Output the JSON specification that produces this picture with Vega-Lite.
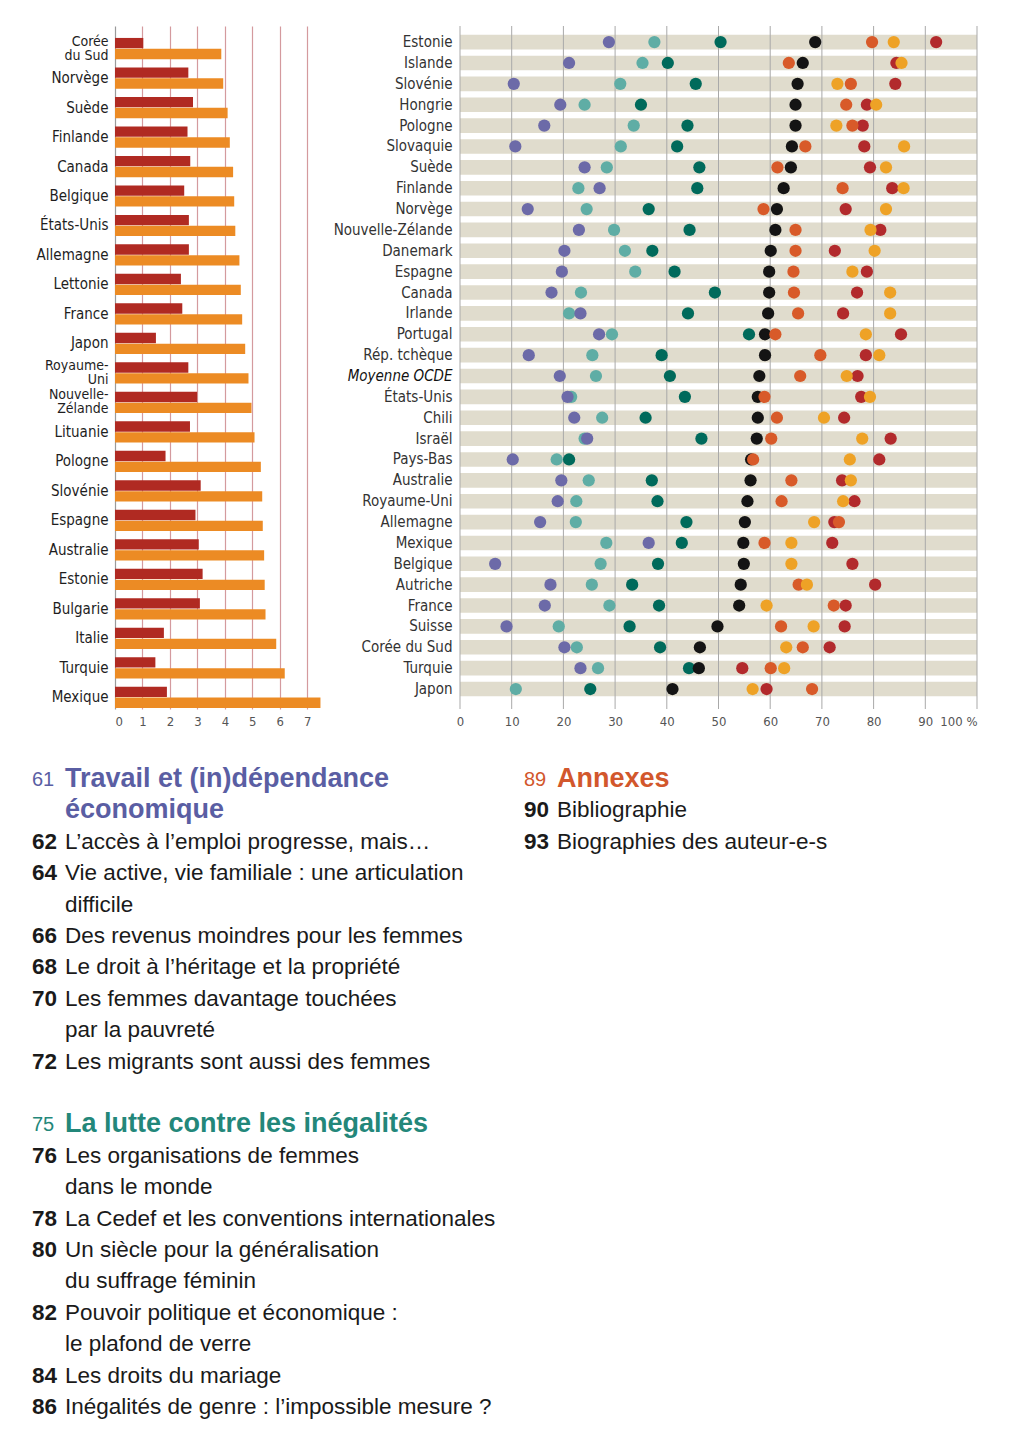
{
  "$schema": "https://vega.github.io/schema/vega-lite/v6.json",
  "padding": {"left": 0, "top": 25, "right": 0, "bottom": 0},
  "autosize": {"type": "pad"},
  "background": "white",
  "config": {"view": {"stroke": null}, "font": "DejaVu Sans Condensed, Liberation Sans, sans-serif"},
  "datasets": {
    "barres": [
      {"pays": "Corée du Sud", "a": 1.03, "b": 3.87},
      {"pays": "Norvège", "a": 2.67, "b": 3.94},
      {"pays": "Suède", "a": 2.84, "b": 4.10},
      {"pays": "Finlande", "a": 2.64, "b": 4.18},
      {"pays": "Canada", "a": 2.74, "b": 4.30},
      {"pays": "Belgique", "a": 2.52, "b": 4.34},
      {"pays": "États-Unis", "a": 2.69, "b": 4.38},
      {"pays": "Allemagne", "a": 2.69, "b": 4.53},
      {"pays": "Lettonie", "a": 2.40, "b": 4.58},
      {"pays": "France", "a": 2.45, "b": 4.63},
      {"pays": "Japon", "a": 1.49, "b": 4.74},
      {"pays": "Royaume-Uni", "a": 2.67, "b": 4.86},
      {"pays": "Nouvelle-Zélande", "a": 2.99, "b": 4.97},
      {"pays": "Lituanie", "a": 2.73, "b": 5.08},
      {"pays": "Pologne", "a": 1.84, "b": 5.31},
      {"pays": "Slovénie", "a": 3.12, "b": 5.36},
      {"pays": "Espagne", "a": 2.93, "b": 5.38},
      {"pays": "Australie", "a": 3.05, "b": 5.43},
      {"pays": "Estonie", "a": 3.19, "b": 5.45},
      {"pays": "Bulgarie", "a": 3.09, "b": 5.48},
      {"pays": "Italie", "a": 1.78, "b": 5.87},
      {"pays": "Turquie", "a": 1.47, "b": 6.18},
      {"pays": "Mexique", "a": 1.89, "b": 7.48}
    ],
    "points": [
      {"pays": "Estonie", "tc": 37.6, "vi": 28.8, "tf": 50.4, "no": 68.7, "rf": 92.1, "or": 79.7, "ja": 83.9},
      {"pays": "Islande", "tc": 35.3, "vi": 21.1, "tf": 40.2, "no": 66.3, "rf": 84.4, "or": 63.6, "ja": 85.4},
      {"pays": "Slovénie", "tc": 31.0, "vi": 10.4, "tf": 45.6, "no": 65.3, "rf": 84.2, "or": 75.6, "ja": 73.0},
      {"pays": "Hongrie", "tc": 24.1, "vi": 19.4, "tf": 35.0, "no": 64.9, "rf": 78.7, "or": 74.7, "ja": 80.5},
      {"pays": "Pologne", "tc": 33.6, "vi": 16.3, "tf": 44.0, "no": 64.9, "rf": 77.9, "or": 75.9, "ja": 72.8},
      {"pays": "Slovaquie", "tc": 31.1, "vi": 10.7, "tf": 42.0, "no": 64.2, "rf": 78.2, "or": 66.8, "ja": 85.9},
      {"pays": "Suède", "tc": 28.4, "vi": 24.1, "tf": 46.3, "no": 64.0, "rf": 79.3, "or": 61.4, "ja": 82.4},
      {"pays": "Finlande", "tc": 22.9, "vi": 27.0, "tf": 45.9, "no": 62.6, "rf": 83.6, "or": 74.0, "ja": 85.8},
      {"pays": "Norvège", "tc": 24.5, "vi": 13.1, "tf": 36.5, "no": 61.3, "rf": 74.6, "or": 58.7, "ja": 82.4},
      {"pays": "Nouvelle-Zélande", "tc": 29.8, "vi": 23.0, "tf": 44.4, "no": 61.0, "rf": 81.3, "or": 64.9, "ja": 79.4},
      {"pays": "Danemark", "tc": 31.9, "vi": 20.2, "tf": 37.2, "no": 60.1, "rf": 72.5, "or": 64.9, "ja": 80.2},
      {"pays": "Espagne", "tc": 33.9, "vi": 19.7, "tf": 41.5, "no": 59.8, "rf": 78.7, "or": 64.5, "ja": 75.9},
      {"pays": "Canada", "tc": 23.4, "vi": 17.7, "tf": 49.3, "no": 59.8, "rf": 76.8, "or": 64.6, "ja": 83.2},
      {"pays": "Irlande", "tc": 21.1, "vi": 23.3, "tf": 44.1, "no": 59.6, "rf": 74.1, "or": 65.4, "ja": 83.2},
      {"pays": "Portugal", "tc": 29.4, "vi": 26.9, "tf": 55.9, "no": 59.0, "rf": 85.3, "or": 61.0, "ja": 78.5},
      {"pays": "Rép. tchèque", "tc": 25.6, "vi": 13.3, "tf": 39.0, "no": 59.0, "rf": 78.5, "or": 69.7, "ja": 81.1},
      {"pays": "Moyenne OCDE", "tc": 26.3, "vi": 19.3, "tf": 40.6, "no": 57.9, "rf": 76.9, "or": 65.8, "ja": 74.8},
      {"pays": "États-Unis", "tc": 21.5, "vi": 20.8, "tf": 43.5, "no": 57.6, "rf": 77.6, "or": 58.9, "ja": 79.3},
      {"pays": "Chili", "tc": 27.5, "vi": 22.1, "tf": 35.9, "no": 57.6, "rf": 74.3, "or": 61.3, "ja": 70.4},
      {"pays": "Israël", "tc": 24.1, "vi": 24.6, "tf": 46.7, "no": 57.4, "rf": 83.3, "or": 60.2, "ja": 77.8},
      {"pays": "Pays-Bas", "tc": 18.7, "vi": 10.2, "tf": 21.1, "no": 56.3, "rf": 81.1, "or": 56.7, "ja": 75.4},
      {"pays": "Australie", "tc": 24.9, "vi": 19.6, "tf": 37.1, "no": 56.2, "rf": 73.9, "or": 64.1, "ja": 75.6},
      {"pays": "Royaume-Uni", "tc": 22.5, "vi": 18.9, "tf": 38.2, "no": 55.6, "rf": 76.3, "or": 62.2, "ja": 74.1},
      {"pays": "Allemagne", "tc": 22.4, "vi": 15.5, "tf": 43.8, "no": 55.1, "rf": 72.4, "or": 73.3, "ja": 68.5},
      {"pays": "Mexique", "tc": 28.3, "vi": 36.5, "tf": 42.9, "no": 54.8, "rf": 72.0, "or": 58.9, "ja": 64.1},
      {"pays": "Belgique", "tc": 27.2, "vi": 6.8, "tf": 38.3, "no": 54.9, "rf": 75.9, "or": null, "ja": 64.1},
      {"pays": "Autriche", "tc": 25.5, "vi": 17.5, "tf": 33.3, "no": 54.3, "rf": 80.3, "or": 65.5, "ja": 67.1},
      {"pays": "France", "tc": 28.9, "vi": 16.4, "tf": 38.5, "no": 54.0, "rf": 74.6, "or": 72.3, "ja": 59.3},
      {"pays": "Suisse", "tc": 19.1, "vi": 9.0, "tf": 32.8, "no": 49.8, "rf": 74.4, "or": 62.1, "ja": 68.4},
      {"pays": "Corée du Sud", "tc": 22.6, "vi": 20.2, "tf": 38.7, "no": 46.4, "rf": 71.5, "or": 66.3, "ja": 63.1},
      {"pays": "Turquie", "tc": 26.7, "vi": 23.3, "tf": 44.3, "no": 46.2, "rf": 54.6, "or": 60.1, "ja": 62.7},
      {"pays": "Japon", "tc": 10.8, "vi": null, "tf": 25.2, "no": 41.1, "rf": 59.3, "or": 68.1, "ja": 56.6}
    ],
    "graduations": [
      {"t": 0}, {"t": 10}, {"t": 20}, {"t": 30}, {"t": 40}, {"t": 50},
      {"t": 60}, {"t": 70}, {"t": 80}, {"t": 90}, {"t": 100}
    ],
    "sommaire": [
      {"col": "g", "ligne": 0, "num": "61", "texte": "Travail et (in)dépendance", "type": "travail", "niveau": "section"},
      {"col": "g", "ligne": 1, "num": "", "texte": "économique", "type": "travail", "niveau": "section"},
      {"col": "g", "ligne": 2, "num": "62", "texte": "L’accès à l’emploi progresse, mais…", "type": "article", "niveau": "article"},
      {"col": "g", "ligne": 3, "num": "64", "texte": "Vie active, vie familiale : une articulation", "type": "article", "niveau": "article"},
      {"col": "g", "ligne": 4, "num": "", "texte": "difficile", "type": "article", "niveau": "article"},
      {"col": "g", "ligne": 5, "num": "66", "texte": "Des revenus moindres pour les femmes", "type": "article", "niveau": "article"},
      {"col": "g", "ligne": 6, "num": "68", "texte": "Le droit à l’héritage et la propriété", "type": "article", "niveau": "article"},
      {"col": "g", "ligne": 7, "num": "70", "texte": "Les femmes davantage touchées", "type": "article", "niveau": "article"},
      {"col": "g", "ligne": 8, "num": "", "texte": "par la pauvreté", "type": "article", "niveau": "article"},
      {"col": "g", "ligne": 9, "num": "72", "texte": "Les migrants sont aussi des femmes", "type": "article", "niveau": "article"},
      {"col": "g", "ligne": 11, "num": "75", "texte": "La lutte contre les inégalités", "type": "lutte", "niveau": "section"},
      {"col": "g", "ligne": 12, "num": "76", "texte": "Les organisations de femmes", "type": "article", "niveau": "article"},
      {"col": "g", "ligne": 13, "num": "", "texte": "dans le monde", "type": "article", "niveau": "article"},
      {"col": "g", "ligne": 14, "num": "78", "texte": "La Cedef et les conventions internationales", "type": "article", "niveau": "article"},
      {"col": "g", "ligne": 15, "num": "80", "texte": "Un siècle pour la généralisation", "type": "article", "niveau": "article"},
      {"col": "g", "ligne": 16, "num": "", "texte": "du suffrage féminin", "type": "article", "niveau": "article"},
      {"col": "g", "ligne": 17, "num": "82", "texte": "Pouvoir politique et économique :", "type": "article", "niveau": "article"},
      {"col": "g", "ligne": 18, "num": "", "texte": "le plafond de verre", "type": "article", "niveau": "article"},
      {"col": "g", "ligne": 19, "num": "84", "texte": "Les droits du mariage", "type": "article", "niveau": "article"},
      {"col": "g", "ligne": 20, "num": "86", "texte": "Inégalités de genre : l’impossible mesure ?", "type": "article", "niveau": "article"},
      {"col": "d", "ligne": 0, "num": "89", "texte": "Annexes", "type": "annexes", "niveau": "section"},
      {"col": "d", "ligne": 1, "num": "90", "texte": "Bibliographie", "type": "article", "niveau": "article"},
      {"col": "d", "ligne": 2, "num": "93", "texte": "Biographies des auteur-e-s", "type": "article", "niveau": "article"}
    ]
  },
  "spacing": 30,
  "resolve": {"scale": {"color": "independent"}},
  "vconcat": [
    {
      "spacing": 9,
      "resolve": {"scale": {"color": "independent"}},
      "hconcat": [
        {
          "width": 206,
          "height": 683,
          "data": {"name": "barres"},
          "transform": [{"fold": ["a", "b"], "as": ["serie", "valeur"]}],
          "mark": {"type": "bar"},
          "encoding": {
            "y": {
              "field": "pays", "type": "nominal", "sort": null,
              "scale": {"paddingInner": 0.28, "paddingOuter": 0.22, "align": 0.92},
              "axis": {
                "title": null, "domain": false, "ticks": false, "labelPadding": 7,
                "labelFontSize": {"expr": "indexof(['Corée du Sud', 'Royaume-Uni', 'Nouvelle-Zélande'], datum.label) >= 0 ? 14 : 15"},
                "labelColor": "#1e1e1e", "labelLineHeight": 14,
                "labelOffset": {"expr": "indexof(['Corée du Sud', 'Royaume-Uni', 'Nouvelle-Zélande'], datum.label) >= 0 ? -7 : 0"},
                "minExtent": 115, "maxExtent": 115,
                "labelExpr": "datum.label == 'Corée du Sud' ? ['Corée', 'du Sud'] : datum.label == 'Royaume-Uni' ? ['Royaume-', 'Uni'] : datum.label == 'Nouvelle-Zélande' ? ['Nouvelle-', 'Zélande'] : datum.label"
              }
            },
            "yOffset": {"field": "serie", "type": "nominal", "sort": ["a", "b"], "scale": {"paddingInner": 0.05}},
            "x": {
              "field": "valeur", "type": "quantitative",
              "scale": {"domain": [0, 7.5], "nice": false},
              "axis": {
                "title": null, "values": [0, 1, 2, 3, 4, 5, 6, 7], "domain": false, "ticks": false, "tickSize": 0,
                "labelPadding": 6, "labelFontSize": 13, "labelColor": "#555",
                "gridColor": {"expr": "datum.value == 0 ? '#9a9a9a' : '#d49a9e'"}, "gridWidth": 1.2,
                "minExtent": 22, "maxExtent": 22
              }
            },
            "color": {"field": "serie", "type": "nominal", "scale": {"domain": ["a", "b"], "range": ["#b02a22", "#ec8b24"]}, "legend": null}
          }
        },
        {
          "width": 517,
          "height": 683,
          "layer": [
            {
              "data": {"name": "points"},
              "mark": {"type": "bar", "color": "#e0dccd"},
              "encoding": {
                "y": {
                  "field": "pays", "type": "nominal", "sort": null,
                  "scale": {"paddingInner": 0.3, "paddingOuter": 0.515, "align": 0.41},
                  "axis": {
                    "title": null, "domain": false, "ticks": false, "labelPadding": 8,
                    "labelFontSize": 15,
                    "labelColor": {"expr": "datum.label == 'Moyenne OCDE' ? '#111' : '#333'"},
                    "labelFontStyle": {"expr": "datum.label == 'Moyenne OCDE' ? 'italic' : 'normal'"},
                    "minExtent": 130, "maxExtent": 130
                  }
                },
                "x": {
                  "datum": 0, "type": "quantitative",
                  "scale": {"domain": [0, 100], "nice": false},
                  "axis": {
                    "title": null, "values": [0, 10, 20, 30, 40, 50, 60, 70, 80, 90, 100],
                    "grid": false, "domain": false, "ticks": false, "tickSize": 0,
                    "labelPadding": 6, "labelFontSize": 13, "labelColor": "#555",
                    "labelExpr": "datum.value == 100 ? '100 %' : datum.label",
                    "labelAlign": {"expr": "datum.value == 100 ? 'right' : 'center'"},
                    "minExtent": 22, "maxExtent": 22
                  }
                },
                "x2": {"datum": 100}
              }
            },
            {
              "data": {"name": "graduations"},
              "mark": {"type": "rule", "color": "#a9a9a9", "strokeWidth": 1},
              "encoding": {"x": {"field": "t", "type": "quantitative"}}
            },
            {
              "data": {"name": "points"},
              "transform": [
                {"fold": ["tc", "vi", "tf", "no", "rf", "or", "ja"], "as": ["serie", "valeur"]},
                {"filter": "datum.valeur != null"}
              ],
              "mark": {"type": "circle", "size": 150, "opacity": 1},
              "encoding": {
                "y": {"field": "pays", "type": "nominal", "sort": null},
                "x": {"field": "valeur", "type": "quantitative"},
                "color": {
                  "field": "serie", "type": "nominal",
                  "scale": {
                    "domain": ["tc", "vi", "tf", "no", "rf", "or", "ja"],
                    "range": ["#5fada5", "#6c6aa8", "#006a5b", "#141414", "#b22a2c", "#d85a29", "#eea226"]
                  },
                  "legend": null
                }
              }
            }
          ]
        }
      ]
    },
    {
      "width": 492,
      "height": 670,
      "data": {"name": "sommaire"},
      "encoding": {
        "x": {"field": "col", "type": "nominal", "scale": {"type": "point", "domain": ["g", "d"], "padding": 0}, "axis": null},
        "y": {"field": "ligne", "type": "quantitative", "scale": {"domain": [-0.573, 20.764], "nice": false, "zero": false, "reverse": true}, "axis": null}
      },
      "layer": [
        {
          "transform": [{"filter": "datum.niveau == 'article' && datum.num != ''"}],
          "mark": {"type": "text", "align": "left", "baseline": "middle", "font": "Liberation Sans", "fontWeight": "bold", "fontSize": 22.5, "color": "#1a1a1a", "dx": -83},
          "encoding": {"text": {"field": "num"}}
        },
        {
          "transform": [{"filter": "datum.niveau == 'section' && datum.num != ''"}],
          "mark": {"type": "text", "align": "left", "baseline": "middle", "font": "Liberation Sans", "fontSize": 20, "dy": 1, "dx": -83},
          "encoding": {
            "text": {"field": "num"},
            "color": {"field": "type", "type": "nominal", "scale": {"domain": ["travail", "lutte", "annexes", "article"], "range": ["#5a5ea3", "#23877a", "#d2572c", "#1a1a1a"]}, "legend": null}
          }
        },
        {
          "transform": [{"filter": "datum.niveau == 'article'"}],
          "mark": {"type": "text", "align": "left", "baseline": "middle", "font": "Liberation Sans", "fontSize": 22.5, "dx": -50, "color": "#1a1a1a"},
          "encoding": {"text": {"field": "texte"}}
        },
        {
          "transform": [{"filter": "datum.niveau == 'section'"}],
          "mark": {"type": "text", "align": "left", "baseline": "middle", "font": "Liberation Sans", "fontWeight": "bold", "fontSize": 27, "dx": -50},
          "encoding": {
            "text": {"field": "texte"},
            "color": {"field": "type", "type": "nominal", "scale": {"domain": ["travail", "lutte", "annexes", "article"], "range": ["#5a5ea3", "#23877a", "#d2572c", "#1a1a1a"]}, "legend": null}
          }
        }
      ]
    }
  ]
}
